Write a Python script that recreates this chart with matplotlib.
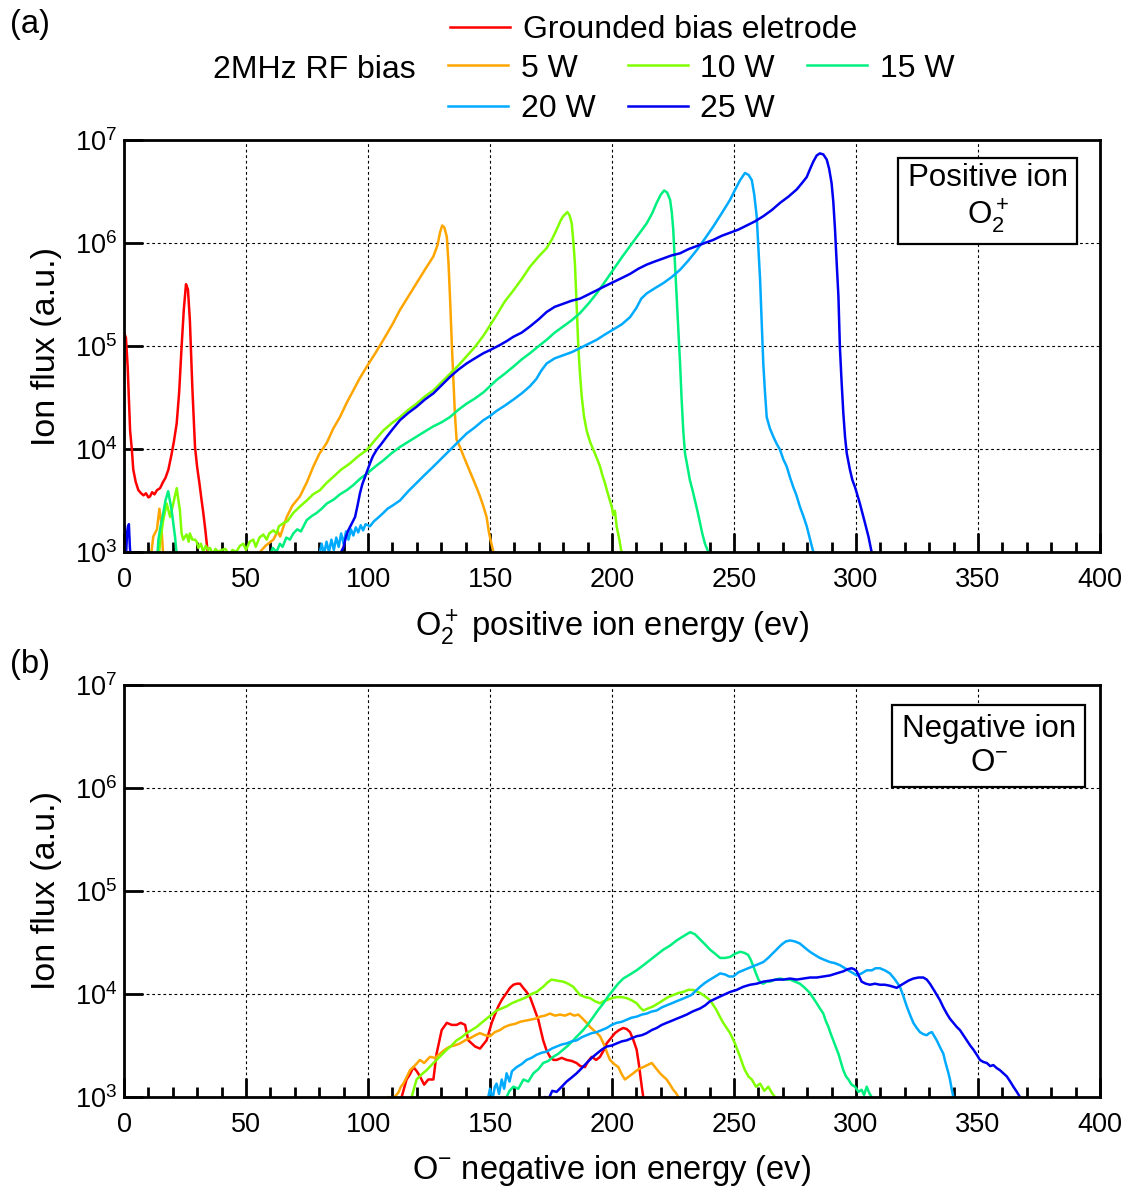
import numpy as np
import matplotlib
matplotlib.use('Agg')
import matplotlib.pyplot as plt

plt.rcParams['font.family'] = ['Liberation Sans', 'DejaVu Sans']
plt.rcParams['mathtext.fontset'] = 'custom'
plt.rcParams['mathtext.rm'] = 'Liberation Sans'
plt.rcParams['mathtext.it'] = 'Liberation Sans:italic'
plt.rcParams['mathtext.bf'] = 'Liberation Sans:bold'

# colours for the bias settings
c_gnd = '#ff0000'
c_5 = '#ffa500'
c_10 = '#80ff00'
c_15 = '#00f080'
c_20 = '#00aaff'
c_25 = '#0000f0'

# ---------------- (a) O2+ positive ions : energy (eV) / log10(flux) ----------------
a_gnd_ev = [0, 0.8, 1.5, 2.5, 3.2, 3.8, 4.8, 5.9, 7, 8, 9, 10, 10.7, 11.5, 12.5, 13.5, 14.8, 16, 17,
            18.2, 19.5, 20.5, 21.6, 22.6, 23.6, 24.5, 25.4, 26.2, 27.0, 28, 29.1, 30, 30.9, 31.7,
            32.5, 33.4, 34.2, 35]
a_gnd_lg = [5.13, 5.08, 4.80, 4.18, 4.0, 3.80, 3.68, 3.60, 3.57, 3.55, 3.57, 3.53, 3.54, 3.58, 3.56,
            3.60, 3.62, 3.68, 3.72, 3.80, 3.95, 4.08, 4.25, 4.55, 4.99, 5.35, 5.60, 5.55, 5.25, 4.6,
            4.02, 3.82, 3.67, 3.52, 3.38, 3.2, 3.02, 2.9]

a_5_ev = [11, 12, 13.5, 14.5, 15.2, 16.1, 20, 50, 55.7, 58, 61.2, 63, 64, 66.7, 69, 72.1, 75, 77.6,
          80, 83.1, 85.8, 88.5, 91.3, 94, 96.7, 99.5, 103, 106.3, 110, 113.1, 116.5, 119.9, 123.3,
          126.8, 128.5, 129.5, 130.4, 131.3, 132.3, 133, 133.6, 134.3, 135, 135.6, 136.3, 137.7,
          139, 140.4, 141.8, 143.2, 144.6, 145.9, 147.2, 148.6, 149.5, 150.2, 151.4, 152]
a_5_lg = [2.95, 3.15, 3.22, 3.42, 3.3, 2.95, 2.8, 2.8, 3.0, 3.06, 3.12, 3.2, 3.15, 3.34, 3.45, 3.54,
          3.68, 3.83, 3.95, 4.06, 4.2, 4.31, 4.45, 4.57, 4.69, 4.80, 4.93, 5.06, 5.21, 5.35, 5.48,
          5.61, 5.74, 5.87, 5.98, 6.1, 6.17, 6.15, 6.06, 5.8, 5.48, 5.05, 4.67, 4.35, 4.09, 4.02,
          3.94, 3.86, 3.78, 3.70, 3.62, 3.54, 3.45, 3.34, 3.2, 3.12, 3.0, 2.9]

a_10_ev = [14, 14.8, 16, 17.5, 18.9, 20, 21.6, 22.3, 22.9, 23.6, 24.3, 25, 25.7, 26.5, 27, 28, 29.1,
           29.8, 30.5, 31.5, 32.5, 33.5, 34.5, 35.2, 36.5, 37.5, 38.5, 40, 41.6, 43, 44.5, 46, 47.5,
           48.9, 50, 51.5, 53, 54, 55.5, 57.1, 58.5, 59.5, 61.2, 62.5, 63.5, 65.3, 67, 69.4, 72,
           74.9, 77.5, 80.3, 83, 85.8, 89, 92.6, 96, 99.5, 103, 106.3, 109.7, 113.1, 116.5, 119.9,
           123.3, 126.8, 130.2, 133.6, 137, 140.4, 143.8, 147.3, 150, 152.7, 156, 159.6, 163, 166.4,
           170, 173.2, 175.5, 177.3, 179, 180, 181.7, 182.6, 183.5, 184.2, 184.8, 185.5, 186.2,
           186.9, 187.6, 188.5, 189.6, 191, 192.4, 193.8, 195.1, 196, 197.1, 198.5, 199.9, 200.5,
           201.2, 201.9, 203, 203.9, 204.5]
a_10_lg = [2.9, 3.09, 3.3, 3.47, 3.34, 3.45, 3.62, 3.5, 3.41, 3.18, 3.12, 3.15, 3.17, 3.1, 3.18,
           3.12, 3.12, 3.10, 3.04, 3.08, 3.0, 3.06, 3.02, 3.04, 2.98, 3.03, 3.0, 3.02, 3.03, 2.97,
           3.02, 3.0, 3.06, 3.08, 3.02, 3.1, 3.12, 3.05, 3.14, 3.17, 3.12, 3.18, 3.21, 3.18, 3.25,
           3.28, 3.3, 3.38, 3.44, 3.50, 3.56, 3.60, 3.67, 3.73, 3.8, 3.86, 3.93, 3.99, 4.09, 4.18,
           4.25, 4.31, 4.38, 4.44, 4.51, 4.57, 4.65, 4.73, 4.81, 4.90, 4.99, 5.10, 5.2, 5.3, 5.43,
           5.54, 5.65, 5.77, 5.87, 5.95, 6.04, 6.13, 6.22, 6.26, 6.30, 6.27, 6.19, 6.0, 5.80, 5.4,
           4.99, 4.72, 4.51, 4.32, 4.18, 4.07, 3.99, 3.91, 3.83, 3.75, 3.67, 3.55, 3.44, 3.36, 3.4,
           3.25, 3.12, 3.0, 2.9]

a_15_ev = [13.5, 14.1, 15, 16.1, 17, 18.1, 18.8, 19.5, 20.2, 20.9, 21.5, 22.2, 50, 57, 58.5, 60, 61,
           62.5, 63.9, 65, 66.5, 68, 69.4, 71, 72.5, 74.9, 77, 79, 81, 83.1, 86, 88.5, 91.3, 94,
           96.7, 99.5, 103, 106.3, 109.7, 113.1, 116.5, 119.9, 123.3, 126.8, 130.2, 133.6, 137,
           140.4, 143.8, 147.3, 150, 152.7, 156, 159.6, 163, 166.4, 170, 173.2, 176.5, 180, 183.5,
           186.9, 190.3, 193.7, 197, 200.5, 204, 207.4, 210.8, 214.2, 216.5, 218.3, 220, 221.4,
           222.6, 223.8, 224.5, 225.1, 225.8, 226.5, 227.2, 227.9, 228.5, 229.2, 229.9, 231, 231.9,
           233, 234, 235, 236.1, 237, 238.1, 239.5, 240]
a_15_lg = [2.9, 3.12, 3.25, 3.38, 3.5, 3.59, 3.5, 3.41, 3.28, 3.15, 3.0, 2.9, 2.8, 2.9, 3.0, 2.98,
           3.04, 3.0, 3.08, 3.05, 3.14, 3.12, 3.18, 3.22, 3.2, 3.31, 3.35, 3.38, 3.42, 3.47, 3.51,
           3.56, 3.60, 3.65, 3.71, 3.76, 3.83, 3.89, 3.96, 4.02, 4.07, 4.12, 4.17, 4.22, 4.26, 4.31,
           4.38, 4.44, 4.49, 4.55, 4.61, 4.67, 4.73, 4.80, 4.87, 4.93, 5.0, 5.06, 5.13, 5.19, 5.25,
           5.32, 5.41, 5.51, 5.62, 5.74, 5.86, 5.97, 6.08, 6.19, 6.29, 6.39, 6.47, 6.51, 6.49, 6.42,
           6.3, 6.13, 5.8, 5.48, 5.15, 4.83, 4.5, 4.18, 3.96, 3.82, 3.70, 3.6, 3.50, 3.4, 3.28, 3.18,
           3.08, 3.0, 2.9]

a_20_ev = [75, 80.3, 81, 82, 83, 84, 85, 86, 87, 88, 89, 90, 91, 92, 93, 94, 95, 96, 97, 98, 99,
           100.8, 102.5, 104, 106.3, 108, 110, 113.1, 116.5, 119.9, 123.3, 126.8, 130.2, 133.6, 137,
           140.4, 143.8, 147.3, 150, 152.7, 156, 159.6, 163, 166.4, 169, 171, 173.2, 176.5, 180,
           183.5, 186.9, 190.3, 193.7, 197, 200.5, 204, 207.4, 210, 212, 214.2, 217.5, 221, 224.5,
           227.9, 231.3, 234.7, 238, 241.5, 245, 248.4, 250.5, 252.5, 254.5, 256, 257.3, 258.3,
           259.3, 260, 260.7, 261.4, 262, 262.7, 263.4, 264.7, 266.1, 267.5, 268.9, 270.2, 271.6,
           273, 274.3, 275.6, 277, 278.4, 279.8, 281.2, 282.5, 283]
a_20_lg = [2.8, 3.0, 3.08, 2.98, 3.1, 3.0, 3.12, 3.02, 3.14, 3.05, 3.18, 3.08, 3.2, 3.12, 3.22,
           3.16, 3.24, 3.19, 3.26, 3.21, 3.27, 3.25, 3.3, 3.33, 3.38, 3.42, 3.45, 3.50, 3.59, 3.67,
           3.75, 3.83, 3.91, 3.99, 4.07, 4.15, 4.21, 4.28, 4.32, 4.37, 4.42, 4.48, 4.54, 4.61, 4.68,
           4.76, 4.83, 4.88, 4.91, 4.94, 4.98, 5.02, 5.06, 5.11, 5.16, 5.21, 5.28, 5.37, 5.46, 5.51,
           5.56, 5.61, 5.67, 5.74, 5.83, 5.93, 6.04, 6.16, 6.29, 6.42, 6.52, 6.61, 6.68, 6.66, 6.61,
           6.47, 6.26, 5.95, 5.64, 5.2, 4.83, 4.55, 4.31, 4.2, 4.12, 4.05, 3.99, 3.9, 3.83, 3.72,
           3.63, 3.55, 3.44, 3.35, 3.25, 3.12, 3.0, 2.9]

a_25_ev = [0, 0.4, 0.8, 1.2, 1.6, 2.0, 2.4, 2.9, 3.3, 85, 89, 90, 91, 91.9, 93, 94.7, 95.7, 96.7,
           97.7, 98.8, 100.8, 102, 103.5, 105.5, 107.7, 110, 113.1, 116.5, 119.9, 123.3, 126.8,
           130.2, 133.6, 137, 140.4, 143.8, 147.3, 150, 154.1, 157, 159.6, 163, 166.4, 170, 173.2,
           176.5, 180, 183.5, 186.9, 190.3, 193.7, 197, 200.5, 204, 207.4, 210.8, 214.2, 217.5, 221,
           224.5, 227.9, 231.3, 234.7, 238, 241.5, 245, 248.4, 251.8, 255.2, 258.6, 262, 265.5,
           268.9, 272.3, 275.7, 277.8, 279.8, 281.2, 282.5, 283.9, 285.2, 286.6, 288, 289, 290,
           290.7, 291.4, 292.1, 292.8, 293.4, 294.1, 294.8, 295.5, 296.2, 297.5, 298.5, 299.6,
           300.6, 301.6, 302.7, 303.7, 305.1, 306.4, 307]
a_25_lg = [3.1, 3.25, 2.95, 3.15, 3.22, 3.27, 3.05, 2.9, 2.8, 2.8, 3.0, 3.05, 3.15, 3.21, 3.26,
           3.34, 3.45, 3.57, 3.66, 3.73, 3.86, 3.93, 3.99, 4.05, 4.12, 4.19, 4.28, 4.35, 4.41, 4.48,
           4.54, 4.62, 4.70, 4.77, 4.83, 4.88, 4.93, 4.96, 5.01, 5.05, 5.09, 5.13, 5.19, 5.26, 5.33,
           5.38, 5.41, 5.44, 5.46, 5.50, 5.54, 5.58, 5.62, 5.66, 5.70, 5.75, 5.79, 5.82, 5.85, 5.88,
           5.90, 5.94, 5.97, 6.0, 6.03, 6.07, 6.10, 6.13, 6.17, 6.21, 6.26, 6.32, 6.39, 6.45, 6.52,
           6.58, 6.64, 6.72, 6.79, 6.85, 6.87, 6.86, 6.81, 6.72, 6.58, 6.4, 6.13, 5.8, 5.48, 4.99,
           4.65, 4.35, 4.12, 3.96, 3.80, 3.70, 3.63, 3.55, 3.47, 3.37, 3.28, 3.15, 3.0, 2.9]

# ---------------- (b) O- negative ions : energy (eV) / log10(flux) ----------------
b_gnd_ev = [110, 113.8, 115.8, 117.2, 118.6, 120, 121.3, 123, 124.7, 126.8, 128.1, 130.2, 132.3,
            134.3, 136.3, 138, 139.8, 141.1, 142.5, 143.9, 145.9, 148.6, 150.7, 152, 153.4, 155,
            156.8, 158.2, 159.6, 161, 162.3, 163.6, 165, 166.4, 167.8, 169.8, 171.8, 173.2, 174.6,
            176, 177.3, 179.4, 181.4, 183.5, 185.5, 187, 188.9, 190.3, 191.7, 193.5, 195.1, 196.5,
            197.8, 199.5, 201.2, 202.9, 204.6, 206, 207.4, 208.8, 210.1, 211, 211.5, 212.2, 212.8,
            213.3]
b_gnd_lg = [2.8, 3.0, 3.17, 3.22, 3.29, 3.25, 3.20, 3.12, 3.17, 3.17, 3.42, 3.65, 3.72, 3.70, 3.70,
            3.72, 3.70, 3.55, 3.52, 3.49, 3.47, 3.55, 3.72, 3.8, 3.88, 3.95, 4.01, 4.06, 4.09, 4.1,
            4.10, 4.06, 4.02, 3.97, 3.88, 3.75, 3.55, 3.45, 3.39, 3.36, 3.36, 3.38, 3.36, 3.35, 3.33,
            3.3, 3.29, 3.35, 3.39, 3.36, 3.39, 3.45, 3.52, 3.57, 3.62, 3.65, 3.67, 3.66, 3.63, 3.55,
            3.46, 3.32, 3.23, 3.1, 3.0, 2.9]

b_5_ev = [106, 108.3, 110, 112.4, 113.5, 114.5, 116, 117.2, 119, 121.3, 123, 125.4, 127.5, 129.5,
          131.5, 133.6, 135.5, 137.7, 139.8, 141.8, 144, 145.9, 148, 150, 152, 154.1, 156, 158.2,
          160.3, 162.3, 164.3, 166.4, 168.5, 170.5, 172.5, 174.6, 176.6, 178.7, 180.8, 182.8,
          184.5, 186.2, 188, 189.6, 191, 192.4, 193.8, 195.1, 196.1, 197.1, 198.1, 199.2, 200.9,
          202.6, 204, 205.3, 207, 208.7, 210.8, 212.8, 214.5, 216.3, 218, 219.7, 221, 222.4, 223.8,
          225.1, 226.2, 227.2, 228]
b_5_lg = [2.8, 3.0, 2.98, 3.04, 3.1, 3.13, 3.2, 3.26, 3.3, 3.36, 3.33, 3.39, 3.38, 3.42, 3.46, 3.49,
          3.5, 3.52, 3.55, 3.57, 3.6, 3.62, 3.6, 3.59, 3.63, 3.65, 3.68, 3.70, 3.71, 3.73, 3.74,
          3.75, 3.76, 3.78, 3.79, 3.81, 3.79, 3.80, 3.79, 3.81, 3.79, 3.80, 3.76, 3.72, 3.68, 3.65,
          3.62, 3.59, 3.54, 3.49, 3.42, 3.36, 3.32, 3.29, 3.22, 3.17, 3.2, 3.23, 3.27, 3.29, 3.31,
          3.33, 3.28, 3.23, 3.2, 3.17, 3.12, 3.07, 3.04, 3.0, 2.9]

b_10_ev = [116, 117.9, 119.9, 122, 124, 126, 128.1, 130.2, 132.3, 134.3, 136.3, 138.4, 140.4,
           142.5, 144.5, 146.5, 148.6, 150.7, 152.7, 154.8, 156.8, 158.9, 160.9, 163, 165, 167,
           169.1, 171.8, 173.5, 175.2, 177.5, 180, 182, 184.1, 185.5, 186.9, 189, 191, 193, 195.1,
           196.5, 197.8, 200, 201.9, 204, 206, 208, 210.1, 211.5, 212.8, 214.8, 216.9, 219, 221,
           223, 225.1, 227.2, 229.2, 231.2, 233.3, 236.1, 238, 240.2, 241.6, 242.9, 244.2, 245.6,
           247, 248.4, 249.4, 250.4, 251.5, 252.5, 253.5, 254.5, 255.9, 257.3, 259, 260.7, 262.4,
           264.1, 265.5, 266.8, 267.5]
b_10_lg = [2.8, 3.0, 3.17, 3.22, 3.26, 3.31, 3.36, 3.41, 3.46, 3.5, 3.55, 3.58, 3.62, 3.65, 3.68,
           3.72, 3.76, 3.8, 3.84, 3.86, 3.88, 3.91, 3.93, 3.95, 3.97, 4.0, 4.02, 4.07, 4.11, 4.14,
           4.13, 4.12, 4.1, 4.07, 4.03, 3.99, 3.97, 3.96, 3.93, 3.91, 3.93, 3.94, 3.96, 3.97, 3.97,
           3.96, 3.94, 3.91, 3.87, 3.84, 3.86, 3.88, 3.91, 3.94, 3.97, 3.99, 4.01, 4.02, 4.04, 4.04,
           4.01, 3.98, 3.94, 3.89, 3.84, 3.78, 3.72, 3.67, 3.62, 3.57, 3.52, 3.45, 3.39, 3.32, 3.26,
           3.2, 3.17, 3.1, 3.13, 3.06, 3.10, 3.04, 3.0, 2.9]

b_15_ev = [154, 156.8, 158, 159.6, 161.6, 163.7, 165.7, 167.8, 169.8, 171.8, 173.9, 175.9, 178, 180,
           182, 184.1, 186.1, 188.2, 190.3, 192.4, 194.5, 196.5, 198.5, 200.5, 202.5, 204.6, 207.4,
           210.1, 212.9, 215.6, 218.3, 221, 223.8, 226.5, 229.2, 232, 234, 236.1, 238.2, 240.2,
           242.3, 244.3, 246.3, 248.4, 250.4, 252.5, 254.2, 255.8, 256.9, 257.9, 259, 260, 261, 262,
           263.4, 264.8, 266.8, 268.9, 271, 273, 275, 277, 279, 281.1, 282.5, 283.9, 285.2, 286.6,
           287.6, 288.7, 289.7, 290.7, 291.8, 292.8, 293.8, 294.8, 295.9, 296.9, 298.2, 299.6, 301,
           302.3, 303.3, 304.4, 305.4, 306.4, 307]
b_15_lg = [2.8, 3.0, 3.06, 3.10, 3.08, 3.17, 3.15, 3.23, 3.27, 3.33, 3.35, 3.39, 3.42, 3.46, 3.5,
           3.55, 3.6, 3.65, 3.71, 3.78, 3.85, 3.91, 3.98, 4.04, 4.1, 4.15, 4.19, 4.23, 4.28, 4.33,
           4.38, 4.43, 4.47, 4.52, 4.56, 4.60, 4.58, 4.53, 4.48, 4.43, 4.39, 4.35, 4.35, 4.36, 4.39,
           4.41, 4.40, 4.38, 4.33, 4.27, 4.2, 4.14, 4.11, 4.10, 4.12, 4.12, 4.14, 4.15, 4.14, 4.14,
           4.12, 4.10, 4.06, 4.01, 3.96, 3.91, 3.86, 3.81, 3.74, 3.68, 3.61, 3.55, 3.48, 3.42, 3.34,
           3.26, 3.2, 3.17, 3.12, 3.10, 3.05, 3.07, 3.02, 3.10, 3.04, 3.0, 2.9]

b_20_ev = [147, 149.3, 150, 151, 152, 152.7, 153.7, 154.8, 155.8, 156.8, 158, 159, 160.9, 163, 165,
           167, 169.1, 171.2, 173.2, 175.3, 177.3, 179.4, 181.4, 183.5, 185.5, 187.6, 189.6, 191.7,
           193.7, 195.8, 197.8, 199.9, 201.9, 204, 206, 208, 210.1, 212.2, 214.2, 216.3, 218.3,
           220.4, 222.4, 224.5, 226.5, 228.6, 230.6, 232.5, 234.3, 236.1, 238.2, 240.2, 242.3,
           244.3, 246.3, 248, 249.7, 251.8, 253.8, 255.8, 257.9, 260, 262, 264, 266.1, 267.8, 269.5,
           271.2, 273, 275, 277, 279, 281.1, 283.1, 285.2, 287.2, 289.3, 291.3, 293.4, 295.5, 297.5,
           299, 300.3, 302.3, 304.4, 306.5, 308, 309.8, 311.8, 313.9, 316, 318, 319.4, 320.8, 322.1,
           323.5, 324.9, 326.2, 327.6, 329, 330, 331.1, 332.1, 333.1, 334.5, 335.8, 336.5, 337.2,
           337.9, 338.5, 339.2, 339.9, 340.3]
b_20_lg = [2.8, 3.0, 3.08, 2.98, 3.1, 3.13, 3.03, 3.17, 3.08, 3.23, 3.15, 3.25, 3.29, 3.32, 3.36,
           3.38, 3.41, 3.43, 3.44, 3.47, 3.49, 3.51, 3.52, 3.54, 3.55, 3.58, 3.60, 3.62, 3.63, 3.65,
           3.67, 3.70, 3.72, 3.73, 3.75, 3.77, 3.78, 3.80, 3.81, 3.83, 3.84, 3.87, 3.89, 3.91, 3.93,
           3.95, 3.97, 3.99, 4.03, 4.07, 4.11, 4.14, 4.17, 4.20, 4.19, 4.17, 4.17, 4.21, 4.23, 4.25,
           4.27, 4.29, 4.31, 4.35, 4.40, 4.44, 4.48, 4.51, 4.52, 4.51, 4.49, 4.45, 4.41, 4.38, 4.35,
           4.33, 4.31, 4.3, 4.28, 4.25, 4.22, 4.2, 4.18, 4.2, 4.23, 4.23, 4.25, 4.25, 4.23, 4.20,
           4.14, 4.07, 3.98, 3.88, 3.8, 3.72, 3.67, 3.63, 3.61, 3.60, 3.62, 3.63, 3.59, 3.55, 3.48,
           3.42, 3.35, 3.29, 3.23, 3.17, 3.08, 3.0, 2.9]

b_25_ev = [170, 172.5, 174, 175.5, 177.3, 179.4, 181.4, 183.5, 185.5, 187.6, 189.6, 191.7, 193.7,
           195.8, 197.8, 199.9, 201.9, 204, 206, 208, 210.1, 212.2, 214.2, 216.3, 218.3, 220.4,
           222.4, 224.5, 226.5, 228.6, 230.6, 233, 236.1, 238.2, 240.2, 242.9, 245.6, 248.4, 251.1,
           253.8, 256.6, 259.3, 262, 264.8, 267.5, 270.2, 273, 275.7, 278.4, 281.2, 283.9, 286.6,
           289.3, 292, 294.8, 296.5, 298.2, 299.3, 300.3, 301.3, 302.3, 304, 305.7, 307.8, 309.8,
           311.8, 313.9, 315.3, 316.7, 318, 319.4, 321.5, 323.5, 325.6, 327.6, 329, 330.3, 332.4,
           334.4, 335.8, 337.2, 338.5, 339.9, 341.3, 342.6, 344, 345.4, 346.8, 348.1, 349.5, 350.8,
           352.2, 353.6, 355, 356.3, 357.7, 359, 360.4, 361.8, 363.2, 364.5, 365.9, 367.2, 368]
b_25_lg = [2.8, 3.0, 2.98, 3.06, 3.05, 3.1, 3.15, 3.19, 3.23, 3.28, 3.33, 3.38, 3.42, 3.46, 3.49,
           3.5, 3.52, 3.54, 3.55, 3.57, 3.59, 3.60, 3.62, 3.65, 3.67, 3.70, 3.72, 3.74, 3.76, 3.78,
           3.80, 3.83, 3.86, 3.89, 3.93, 3.96, 3.99, 4.02, 4.04, 4.07, 4.09, 4.10, 4.12, 4.13, 4.14,
           4.14, 4.15, 4.14, 4.15, 4.16, 4.16, 4.17, 4.18, 4.2, 4.22, 4.24, 4.25, 4.24, 4.22, 4.17,
           4.12, 4.1, 4.09, 4.1, 4.09, 4.09, 4.08, 4.07, 4.06, 4.08, 4.10, 4.13, 4.15, 4.16, 4.16,
           4.14, 4.10, 4.02, 3.94, 3.87, 3.81, 3.76, 3.72, 3.68, 3.65, 3.6, 3.55, 3.5, 3.46, 3.41,
           3.36, 3.34, 3.33, 3.3, 3.31, 3.28, 3.26, 3.23, 3.20, 3.15, 3.10, 3.05, 3.0, 2.9]

legend_labels = ['Grounded bias eletrode', '5 W', '10 W', '15 W', '20 W', '25 W']

panel_a = [(a_gnd_ev, a_gnd_lg, c_gnd), (a_5_ev, a_5_lg, c_5), (a_10_ev, a_10_lg, c_10),
           (a_15_ev, a_15_lg, c_15), (a_20_ev, a_20_lg, c_20), (a_25_ev, a_25_lg, c_25)]
panel_b = [(b_gnd_ev, b_gnd_lg, c_gnd), (b_5_ev, b_5_lg, c_5), (b_10_ev, b_10_lg, c_10),
           (b_15_ev, b_15_lg, c_15), (b_20_ev, b_20_lg, c_20), (b_25_ev, b_25_lg, c_25)]

W, H = 1133, 1188
fig = plt.figure(figsize=(W / 100, H / 100), dpi=100)
ax_a = fig.add_axes([124 / W, 1 - 552 / H, 976 / W, 412 / H])
ax_b = fig.add_axes([124 / W, 1 - 1097 / H, 976 / W, 412 / H])


def style(ax, xlabel):
    ax.set_yscale('log')
    ax.set_xlim(0, 400)
    ax.set_ylim(1e3, 1e7)
    ax.set_xticks(np.arange(0, 401, 50))
    ax.set_xticks(np.arange(0, 401, 10), minor=True)
    ax.set_yticks([1e3, 1e4, 1e5, 1e6, 1e7])
    ax.yaxis.set_minor_locator(matplotlib.ticker.NullLocator())
    ax.tick_params(which='both', direction='in', top=False, right=False, width=2)
    ax.tick_params(axis='x', which='major', length=14, pad=11, labelsize=19.5)
    ax.tick_params(axis='x', which='minor', length=7)
    ax.tick_params(axis='y', which='major', length=14, pad=5, labelsize=19.5)
    ax.grid(True, which='major', color='k', ls=(0, (2.5, 2.5)), lw=0.8)
    for s in ax.spines.values():
        s.set_linewidth(2)
    ax.set_xlabel(xlabel, fontsize=23.5)
    ax.xaxis.set_label_coords(0.5, -0.135)
    ax.set_ylabel('Ion flux (a.u.)', fontsize=24.5)
    ax.yaxis.set_label_coords(-0.064, 0.5)


lines_a = []
for (ev, lg, col), lab in zip(panel_a, legend_labels):
    ln, = ax_a.plot(ev, 10.0 ** np.asarray(lg), color=col, lw=1.8, label=lab)
    lines_a.append(ln)
for ev, lg, col in panel_b:
    ax_b.plot(ev, 10.0 ** np.asarray(lg), color=col, lw=1.8)

style(ax_a, 'O$_2^+$ positive ion energy (ev)')
style(ax_b, 'O$^{-}$ negative ion energy (ev)')

box = dict(boxstyle='square,pad=0.3', fc='white', ec='k', lw=1.6)
ax_a.text(0.885, 0.857, 'Positive ion\nO$_2^+$', transform=ax_a.transAxes, ha='center',
          va='center', fontsize=22.5, linespacing=1.15, bbox=box, zorder=5)
ax_b.text(0.886, 0.852, 'Negative ion\nO$^{-}$', transform=ax_b.transAxes, ha='center',
          va='center', fontsize=22.5, linespacing=1.15, bbox=box, zorder=5)

fig.text(10 / W, 1 - 25 / H, '(a)', fontsize=23.5, va='center', ha='left')
fig.text(10 / W, 1 - 665 / H, '(b)', fontsize=23.5, va='center', ha='left')

# legend: grounded on its own row, RF bias powers below
leg_kw = dict(frameon=False, fontsize=23, handlelength=1.88, handletextpad=0.4,
              borderpad=0, borderaxespad=0, labelspacing=0.34, columnspacing=1.0)
fig.legend([lines_a[0]], [legend_labels[0]], loc='center left',
           bbox_to_anchor=(450 / W, 1 - 30 / H), **leg_kw)
order = [1, 4, 2, 5, 3]
fig.legend([lines_a[i] for i in order], [legend_labels[i] for i in order], ncol=3,
           loc='center left', bbox_to_anchor=(448 / W, 1 - 89 / H), **leg_kw)
fig.text(213 / W, 1 - 70 / H, '2MHz RF bias', fontsize=23, va='center', ha='left')

fig.savefig('out.png', dpi=100)
